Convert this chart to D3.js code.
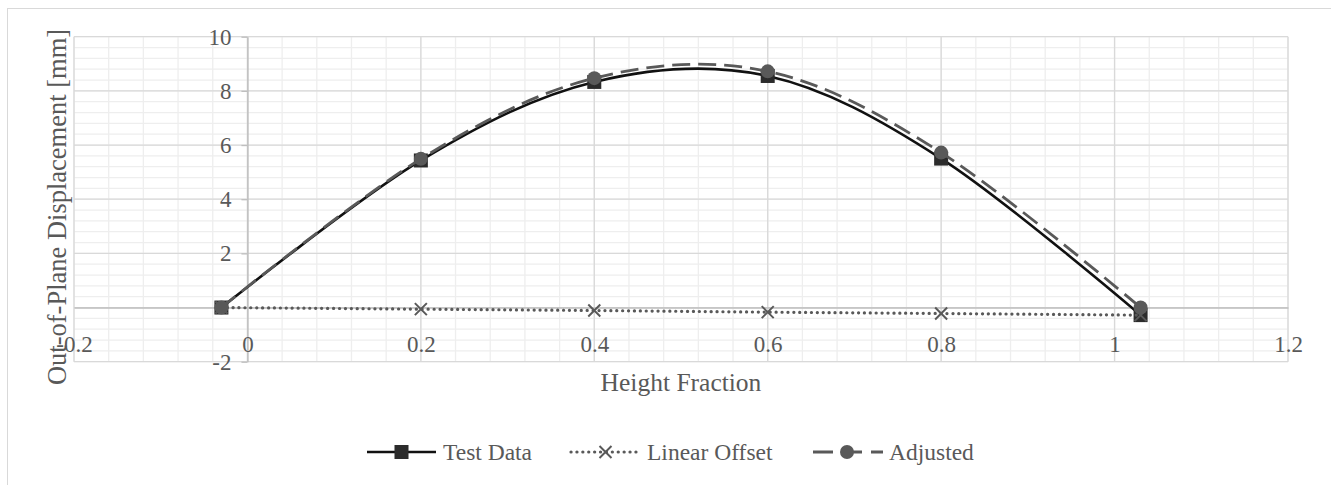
<!DOCTYPE html>
<html>
<head>
<meta charset="utf-8">
<script src="https://cdn.jsdelivr.net/npm/d3@7"></script>
<style>
  html, body { margin: 0; padding: 0; background: #fff; }
  svg { display: block; }
  text { font-family: "Liberation Serif", "Times New Roman", serif; fill: #595959; }
</style>
</head>
<body>
<svg id="chart" width="1331" height="485"></svg>
<script>
// Measured out-of-plane displacement along the wall height
const heightFraction = [-0.03, 0.2, 0.4, 0.6, 0.8, 1.03];
const testData       = [0, 5.43, 8.33, 8.55, 5.5, -0.28];
const linearOffset   = [0, -0.06, -0.11, -0.17, -0.22, -0.28];
const adjusted       = [0, 5.49, 8.47, 8.72, 5.72, 0];

const xTicks = [-0.2, 0, 0.2, 0.4, 0.6, 0.8, 1, 1.2];
const xTickLabels = ["-0.2", "0", "0.2", "0.4", "0.6", "0.8", "1", "1.2"];
const yTicks = [-2, 2, 4, 6, 8, 10];
const yTickLabels = ["-2", "2", "4", "6", "8", "10"];
const xMinor = d3.range(-0.2, 1.2001, 0.04);
const yMinor = d3.range(-2, 10.001, 0.4);

const seriesNames = ["Test Data", "Linear Offset", "Adjusted"];

const svg = d3.select("#chart");

// chart frame
svg.append("rect")
  .attr("x", 7.5).attr("y", 8.5).attr("width", 1340).attr("height", 500)
  .attr("fill", "none").attr("stroke", "#d9d9d9").attr("stroke-width", 1);

const x = d3.scaleLinear().domain([-0.2, 1.2]).range([74, 1288]);
const y = d3.scaleLinear().domain([-2, 10]).range([361.7, 36.7]);

const grid = svg.append("g");
// minor grid
grid.selectAll("line.vminor").data(xMinor).join("line")
  .attr("x1", d => x(d)).attr("x2", d => x(d))
  .attr("y1", y(-2)).attr("y2", y(10))
  .attr("stroke", "#eeeeee").attr("stroke-width", 1.3);
grid.selectAll("line.hminor").data(yMinor).join("line")
  .attr("y1", d => y(d)).attr("y2", d => y(d))
  .attr("x1", x(-0.2)).attr("x2", x(1.2))
  .attr("stroke", "#eeeeee").attr("stroke-width", 1.3);
// major grid
grid.selectAll("line.vmajor").data(xTicks).join("line")
  .attr("x1", d => x(d)).attr("x2", d => x(d))
  .attr("y1", y(-2)).attr("y2", y(10))
  .attr("stroke", "#d9d9d9").attr("stroke-width", 1.3);
grid.selectAll("line.hmajor").data(d3.range(-2, 10.01, 2)).join("line")
  .attr("y1", d => y(d)).attr("y2", d => y(d))
  .attr("x1", x(-0.2)).attr("x2", x(1.2))
  .attr("stroke", "#d9d9d9").attr("stroke-width", 1.3);

// axes crossing at zero
const yAxis = svg.append("g")
  .attr("transform", `translate(${x(0)},0)`)
  .call(d3.axisLeft(y).tickValues(yTicks).tickSize(6).tickSizeOuter(0).tickPadding(10)
    .tickFormat((d, i) => yTickLabels[i]));
const xAxis = svg.append("g")
  .attr("transform", `translate(0,${y(0)})`)
  .call(d3.axisBottom(x).tickValues(xTicks).tickSize(0).tickSizeOuter(0)
    .tickFormat((d, i) => xTickLabels[i]));
[yAxis, xAxis].forEach(a => {
  a.attr("font-family", null).attr("font-size", null);
  a.select(".domain").attr("stroke", "#bfbfbf").attr("stroke-width", 1.5);
  a.selectAll(".tick line").attr("stroke", "#bfbfbf").attr("stroke-width", 1.3);
  a.selectAll("text").attr("font-size", 23).attr("fill", "#595959");
});
yAxis.selectAll(".tick text").attr("dy", "0.33em");
xAxis.selectAll(".tick text").attr("y", 0).attr("dy", 0).attr("transform", "translate(0,44.5)");

// axis titles
svg.append("text")
  .attr("x", x(0.5)).attr("y", 391)
  .attr("text-anchor", "middle").attr("font-size", 25.5)
  .text("Height Fraction");
svg.append("text")
  .attr("transform", "translate(66,207) rotate(-90)")
  .attr("text-anchor", "middle").attr("font-size", 26.5)
  .text("Out-of-Plane Displacement [mm]");

const smooth = d3.line().curve(d3.curveCardinal.tension(0));
const pts = vals => heightFraction.map((h, i) => [x(h), y(vals[i])]);

// Test Data
svg.append("path").attr("d", smooth(pts(testData)))
  .attr("fill", "none").attr("stroke", "#111").attr("stroke-width", 2.6);
svg.append("g").selectAll("rect").data(pts(testData)).join("rect")
  .attr("x", d => d[0] - 7).attr("y", d => d[1] - 7).attr("width", 14).attr("height", 14)
  .attr("fill", "#2b2b2b");

// Linear Offset
svg.append("path").attr("d", smooth(pts(linearOffset)))
  .attr("fill", "none").attr("stroke", "#595959").attr("stroke-width", 3.2)
  .attr("stroke-dasharray", "0.1,5.8").attr("stroke-linecap", "round");
const cross = (g, cx, cy) => {
  g.append("path")
    .attr("d", `M${cx - 6},${cy - 6}L${cx + 6},${cy + 6}M${cx - 6},${cy + 6}L${cx + 6},${cy - 6}`)
    .attr("stroke", "#595959").attr("stroke-width", 2).attr("fill", "none");
};
const crossG = svg.append("g");
pts(linearOffset).forEach(p => cross(crossG, p[0], p[1]));

// Adjusted
svg.append("path").attr("d", smooth(pts(adjusted)))
  .attr("fill", "none").attr("stroke", "#595959").attr("stroke-width", 2.8)
  .attr("stroke-dasharray", "18,8");
svg.append("g").selectAll("circle").data(pts(adjusted)).join("circle")
  .attr("cx", d => d[0]).attr("cy", d => d[1]).attr("r", 7)
  .attr("fill", "#595959");

// legend
const legendY = 452;
const legendItems = [
  { name: seriesNames[0], x0: 367 },
  { name: seriesNames[1], x0: 571 },
  { name: seriesNames[2], x0: 813 }
];
const lg = svg.append("g");
// Test Data key
lg.append("line").attr("x1", legendItems[0].x0).attr("x2", legendItems[0].x0 + 69)
  .attr("y1", legendY).attr("y2", legendY).attr("stroke", "#111").attr("stroke-width", 2.6);
lg.append("rect").attr("x", legendItems[0].x0 + 34.5 - 7).attr("y", legendY - 7)
  .attr("width", 14).attr("height", 14).attr("fill", "#2b2b2b");
// Linear Offset key
lg.append("line").attr("x1", legendItems[1].x0).attr("x2", legendItems[1].x0 + 69)
  .attr("y1", legendY).attr("y2", legendY).attr("stroke", "#595959").attr("stroke-width", 3.2)
  .attr("stroke-dasharray", "0.1,5.8").attr("stroke-linecap", "round");
cross(lg, legendItems[1].x0 + 34.5, legendY);
// Adjusted key
lg.append("line").attr("x1", legendItems[2].x0).attr("x2", legendItems[2].x0 + 70)
  .attr("y1", legendY).attr("y2", legendY).attr("stroke", "#595959").attr("stroke-width", 2.8)
  .attr("stroke-dasharray", "20,9");
lg.append("circle").attr("cx", legendItems[2].x0 + 34).attr("cy", legendY).attr("r", 7)
  .attr("fill", "#595959");

lg.selectAll("text").data(legendItems).join("text")
  .attr("x", d => d.x0 + 76).attr("y", legendY).attr("dy", "0.33em")
  .attr("font-size", 23.5)
  .text(d => d.name);
</script>
</body>
</html>
